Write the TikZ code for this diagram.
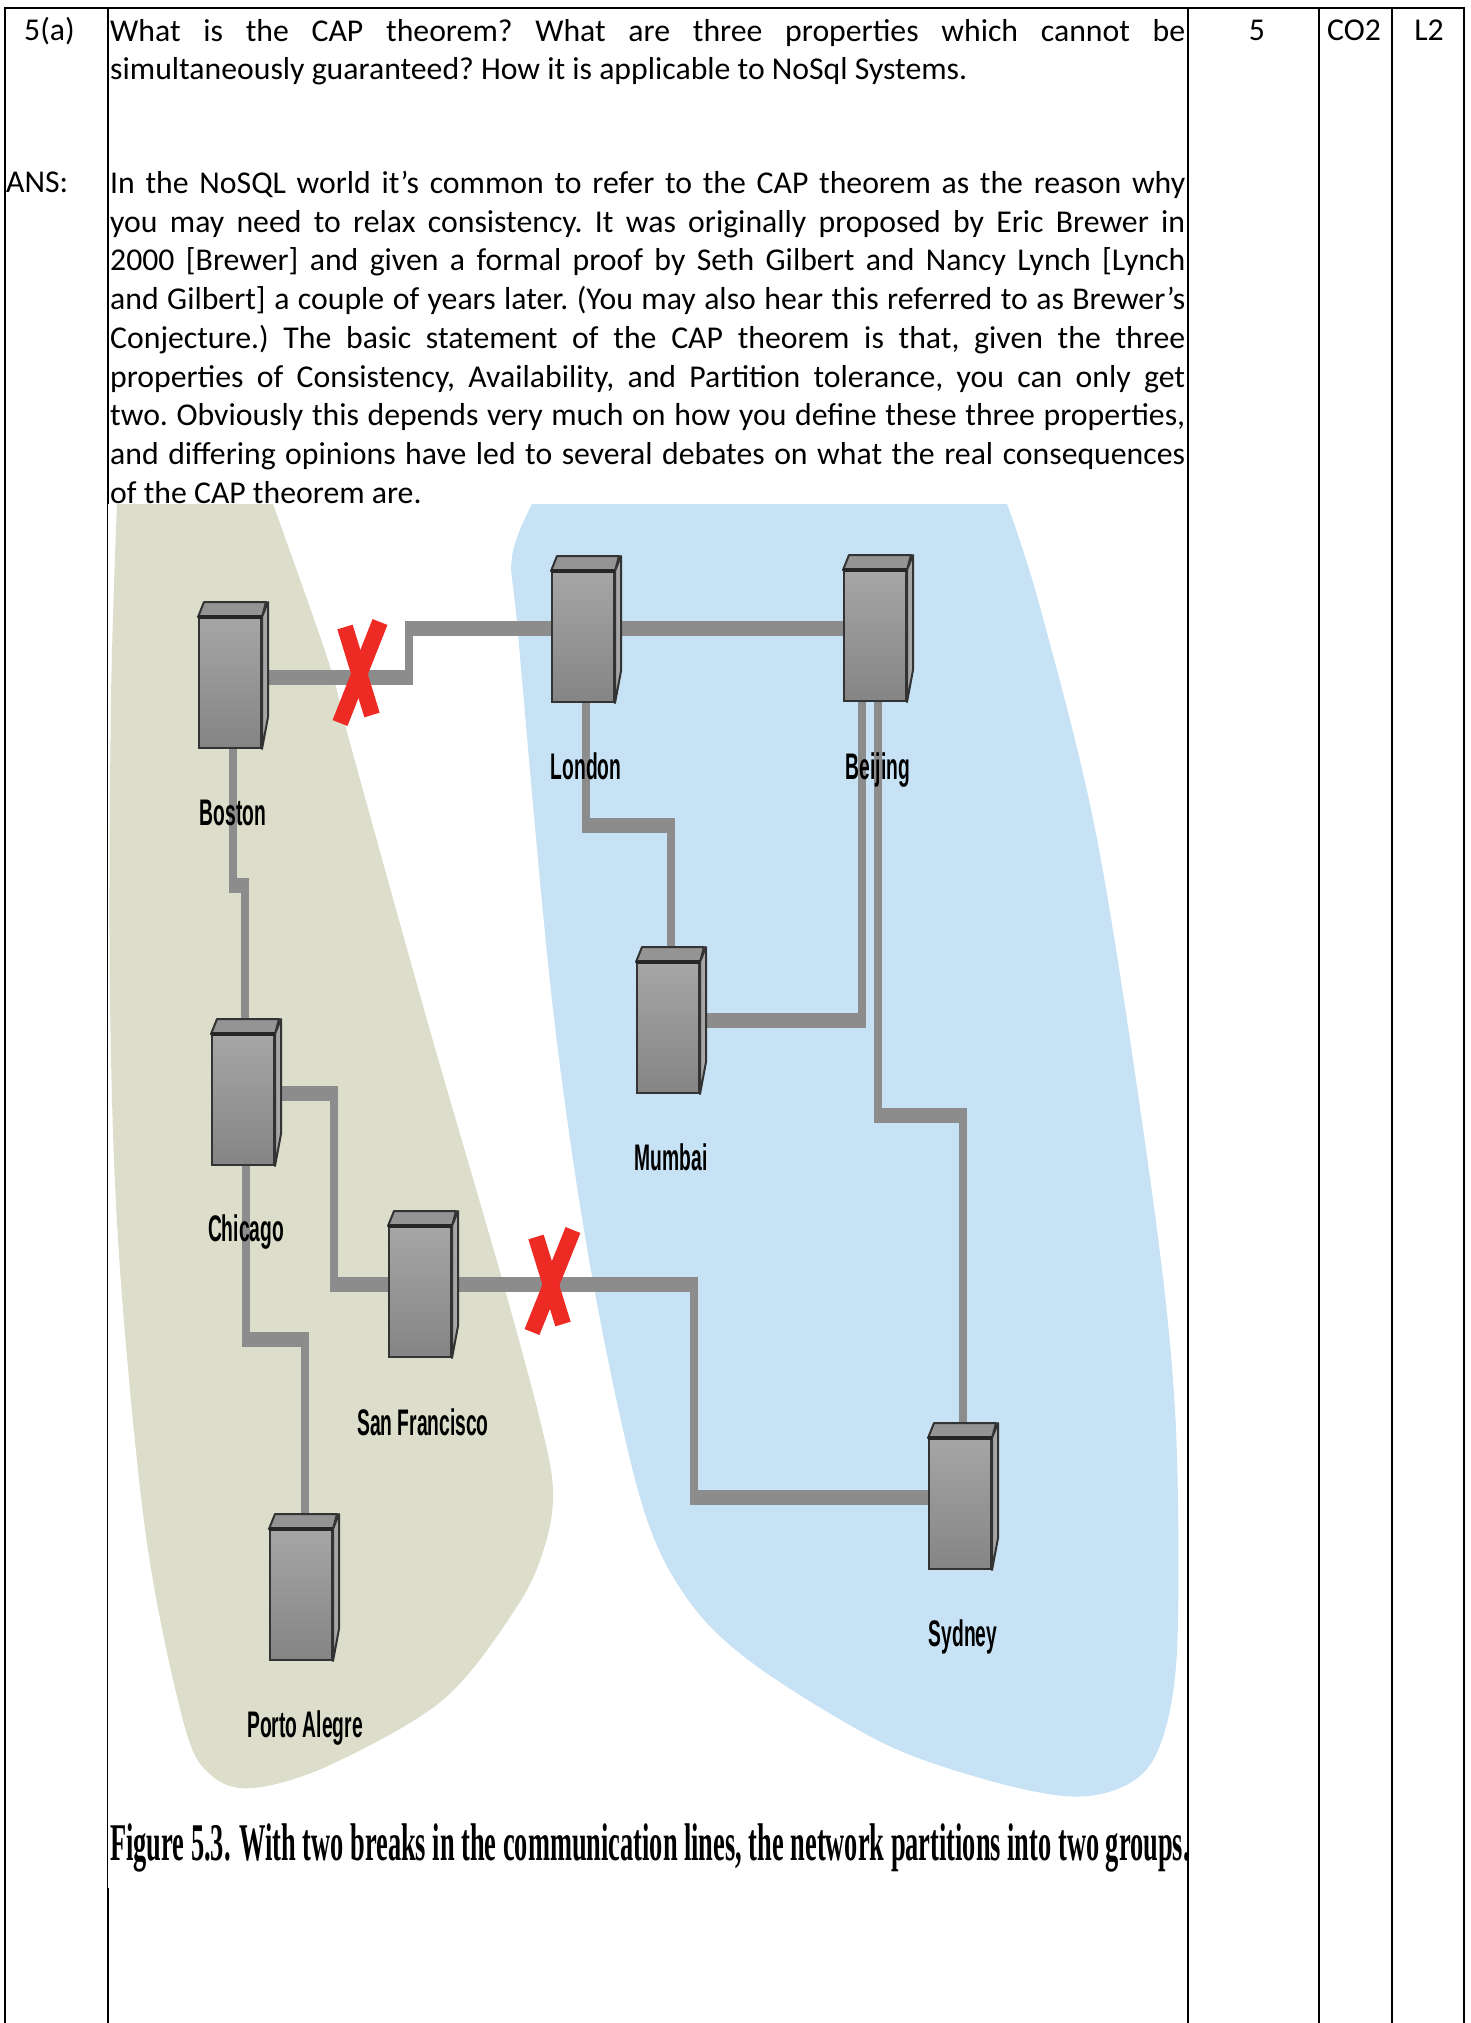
\documentclass[tikz,border=0pt]{standalone}
\usepackage{fontspec}
\setmainfont{Carlito}
\newfontfamily\placefont[FakeStretch=0.52]{Liberation Sans}
\newfontfamily\captionfont[FakeStretch=0.498]{Liberation Serif}
\usetikzlibrary{backgrounds}
\definecolor{oliveblob}{HTML}{DCDDCA}
\definecolor{blueblob}{HTML}{C7E2F4}
\definecolor{linkgray}{HTML}{8C8C8C}
\definecolor{breakred}{HTML}{EE2A24}

\begin{document}
\begin{tikzpicture}[x=1pt,y=-1pt,
cell/.style={font=\fontsize{31.75}{38.7}\selectfont\frenchspacing,inner sep=0pt,anchor=base},
para/.style={cell,anchor=north west,text width=1075pt,align=justify},
place/.style={font=\placefont\bfseries\fontsize{37}{37}\selectfont,inner sep=0pt,anchor=base},
server/.style={rectangle,draw=black!80,line width=2pt,top color=black!35,bottom color=black!48,minimum width=62pt,minimum height=130pt,inner sep=0pt},
hlink/.style={linkgray,line width=15pt,shorten <=-4pt,shorten >=-4pt},
vlink/.style={linkgray,line width=8pt,shorten <=-7pt,shorten >=-7pt},
rule/.style={black,line width=2.2pt},
cut/.style={breakred,line width=16pt}]
\useasboundingbox (0,0) rectangle (1470,2023);

% table rules
\draw[rule] (4.2,8) -- (1465.3,8);
\foreach \x in {5.3,1187.7,1319,1391.7,1464.3} {
   \draw[rule] (\x,8) -- (\x,2023);
}
\draw[rule] (108.3,8) -- (108.3,504);
\draw[black,line width=1pt] (107.8,504) -- (107.8,1888);
\draw[rule] (108.3,1888) -- (108.3,2023);

% row text
\node[cell] (qno) at (49.5,41) {5(a)};
\node[cell] (marks) at (1257,41) {5};
\node[cell] (co) at (1354,41) {CO2};
\node[cell] (lvl) at (1429,41) {L2};
\node[cell,anchor=base west] (ans) at (6,192) {ANS:};
\node[para] (question) at (110,19) {What is the CAP theorem? What are three properties which cannot be\linebreak
simultaneously guaranteed? How it is applicable to NoSql Systems.};
\node[para] (answer) at (110,171) {In the NoSQL world it’s common to refer to the CAP theorem as the reason why\linebreak
you may need to relax consistency. It was originally proposed by Eric Brewer in\linebreak
2000 [Brewer] and given a formal proof by Seth Gilbert and Nancy Lynch [Lynch\linebreak
and Gilbert] a couple of years later. (You may also hear this referred to as Brewer’s\linebreak
Conjecture.) The basic statement of the CAP theorem is that, given the three\linebreak
properties of Consistency, Availability, and Partition tolerance, you can only get\linebreak
two. Obviously this depends very much on how you define these three properties,\linebreak
and differing opinions have led to several debates on what the real consequences\linebreak
of the CAP theorem are.};

% servers with their names
\foreach \nm/\x/\y/\lx/\ly/\txt in {%
boston/230/683/233/825/Boston,london/583/637/586/779/London,beijing/875/636/878/779/Beijing,%
mumbai/668/1028/671/1170/Mumbai,chicago/243/1100/246/1241/Chicago,sf/420/1292/423/1435/San Francisco,%
porto/301/1595/305/1737/Porto Alegre,sydney/960/1504/963/1646/Sydney} {
   \node[server] (\nm) at (\x,\y) {};
   \draw[fill=black!42,draw=black!80,line width=2pt,line join=round] (\nm.north west) -- ++(6,-15) -- ++(62,0) -- (\nm.north east) -- cycle;
   \draw[fill=black!35,draw=black!80,line width=2pt,line join=round] (\nm.north east) -- ++(6,-15) -- ++(0,115) -- (\nm.south east) -- cycle;
   \draw[black!85,line width=3.5pt] (\nm.north west) -- (\nm.north east);
   \node[place] (\nm-name) at (\lx,\ly) {\txt};
}

% bends of the lines
\coordinate (b1) at (409,677);
\coordinate (b2) at (409,628);
\coordinate (c1) at (233,885);
\coordinate (c2) at (245,885);
\coordinate (c3) at (334,1093);
\coordinate (c4) at (334,1284);
\coordinate (c5) at (246,1339);
\coordinate (c6) at (305,1339);
\coordinate (d1) at (694,1284);
\coordinate (d2) at (694,1497);
\coordinate (e1) at (586,825);
\coordinate (e2) at (671,825);
\coordinate (f1) at (862,1020);
\coordinate (g1) at (878,1115);
\coordinate (g2) at (963,1115);

\begin{pgfonlayer}{background}
\fill[oliveblob] plot[smooth,tension=.55] coordinates {(273,504) (329,663) (350,743) (427,1020) (498,1265) (540,1420) (553,1490) (545,1545) (518,1605) (444,1699) (330,1765) (253,1788) (211,1775) (184,1724) (146,1536) (119,1255) (110,1000) (111,700) (117,504)} -- cycle;
\fill[blueblob] plot[smooth,tension=.55] coordinates {(1007,504) (1040,607) (1098,844) (1153,1200) (1175,1410) (1178,1620) (1170,1710) (1150,1765) (1115,1790) (1064,1796) (980,1778) (879,1741) (751,1662) (684,1594) (639,1494) (590,1265) (552,1000) (518,634) (512,557) (532,504)} -- cycle;
% lines
\draw[hlink] (boston.east |- b1) -- (b1);
\draw[vlink] (b1) -- (b2);
\draw[hlink] (b2) -- (london.west |- b2);
\draw[hlink] (london.east |- b2) -- (beijing.west |- b2);
\draw[vlink] (c1 |- boston.south) -- (c1);
\draw[hlink] (c1) -- (c2);
\draw[vlink] (c2) -- (c2 |- chicago.north);
\draw[hlink] (chicago.east |- c3) -- (c3);
\draw[vlink] (c3) -- (c4);
\draw[hlink] (c4) -- (sf.west |- c4);
\draw[vlink] (c5 |- chicago.south) -- (c5);
\draw[hlink] (c5) -- (c6);
\draw[vlink] (c6) -- (c6 |- porto.north);
\draw[hlink] (sf.east |- d1) -- (d1);
\draw[vlink] (d1) -- (d2);
\draw[hlink] (d2) -- (sydney.west |- d2);
\draw[vlink] (e1 |- london.south) -- (e1);
\draw[hlink] (e1) -- (e2);
\draw[vlink] (e2) -- (e2 |- mumbai.north);
\draw[hlink] (mumbai.east |- f1) -- (f1);
\draw[vlink] (f1) -- (f1 |- beijing.south);
\draw[vlink] (g1 |- beijing.south) -- (g1);
\draw[hlink] (g1) -- (g2);
\draw[vlink] (g2) -- (g2 |- sydney.north);
\end{pgfonlayer}

% the two breaks
\draw[cut] (340,723) -- (380,622);
\draw[cut] (345,627) -- (372,715);
\draw[cut] (532,1332) -- (573,1230);
\draw[cut] (536,1237) -- (563,1324);

\node[inner sep=0pt,anchor=base west,font=\captionfont\bfseries\fontsize{53}{53}\selectfont] (caption) at (110,1860) {Figure 5.3. With two breaks in the communication lines, the network partitions into two groups.};
\end{tikzpicture}
\end{document}
